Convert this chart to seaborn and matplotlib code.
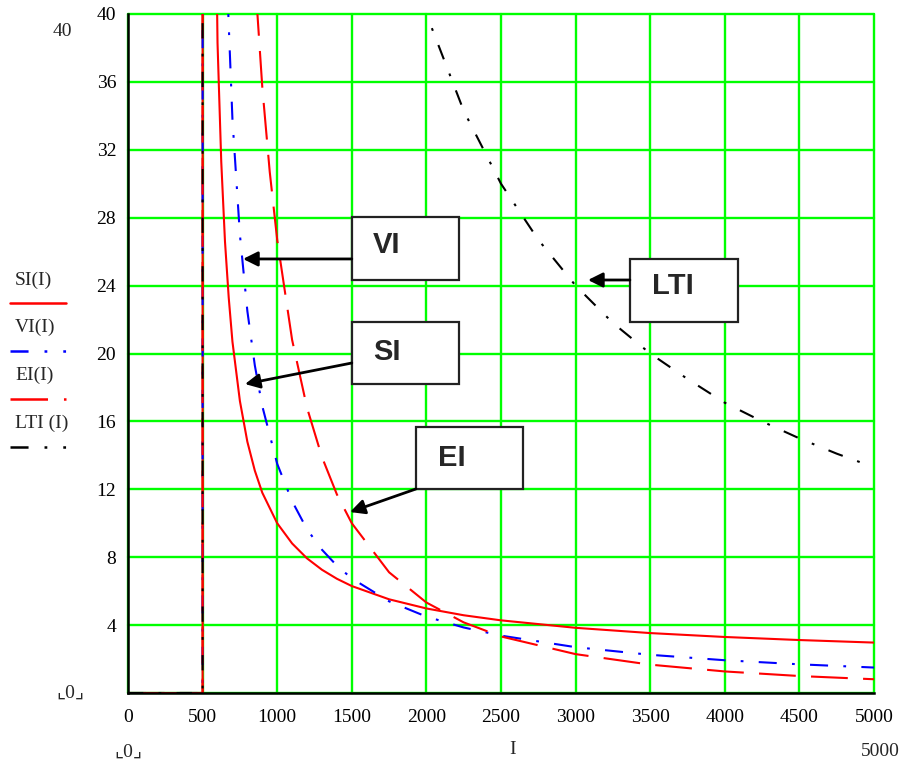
import matplotlib
matplotlib.use("Agg")
import matplotlib.pyplot as plt
import seaborn as sns
import numpy as np
from matplotlib.lines import Line2D
from matplotlib.patches import Rectangle

# relay operating time t (s) vs current I (A)
I_SI = [0, 500, 505, 520, 550, 600, 625, 650, 675, 700, 750, 800, 850, 900, 1000, 1100,
        1200, 1300, 1400, 1500, 1750, 2000, 2250, 2500, 3000, 3500, 4000, 4500, 5000]
t_SI = [0, 0, 700, 178, 73.4, 38.3, 31.3, 26.6, 23.3, 20.7, 17.2, 14.8, 13.1, 11.8, 10.0, 8.81,
        7.93, 7.26, 6.73, 6.30, 5.52, 4.98, 4.58, 4.28, 3.84, 3.53, 3.30, 3.12, 2.97]

I_VI = [0, 500, 505, 520, 550, 600, 650, 700, 750, 800, 850, 900, 1000, 1100, 1200, 1300,
        1400, 1500, 1750, 2000, 2250, 2500, 3000, 3500, 4000, 4500, 5000]
t_VI = [0, 0, 1350, 338, 135, 67.5, 45.0, 33.8, 27.0, 22.5, 19.3, 16.9, 13.5, 11.3, 9.64, 8.44,
        7.50, 6.75, 5.40, 4.50, 3.86, 3.38, 2.70, 2.25, 1.93, 1.69, 1.50]

I_EI = [0, 500, 505, 520, 550, 600, 700, 800, 850, 900, 950, 1000, 1100, 1200, 1300, 1400,
        1500, 1750, 2000, 2250, 2500, 3000, 3500, 4000, 4500, 5000]
t_EI = [0, 0, 3980, 980, 381, 182, 83.3, 51.3, 42.3, 35.7, 30.7, 26.7, 20.8, 16.8, 13.9, 11.7,
        10.0, 7.11, 5.33, 4.16, 3.33, 2.29, 1.67, 1.27, 1.00, 0.81]

I_LTI = [0, 500, 505, 520, 550, 600, 800, 1000, 1500, 2000, 2250, 2500, 2750, 3000, 3250,
         3500, 3750, 4000, 4250, 4500, 4750, 5000]
t_LTI = [0, 0, 12000, 3000, 1200, 600, 200, 120, 60, 40, 34.3, 30.0, 26.7, 24.0, 21.8,
         20.0, 18.5, 17.1, 16.0, 15.0, 14.1, 13.3]

x_ticks = list(range(0, 5001, 500))
y_ticks = list(range(0, 41, 4))

sns.set_style("white")
plt.rcParams["font.family"] = ["Liberation Serif", "DejaVu Sans"]
plt.rcParams["lines.scale_dashes"] = False

fig = plt.figure(figsize=(9.04, 7.64), dpi=100)
ax = fig.add_axes([128 / 904, 1 - 693 / 764, (874 - 128) / 904, (693 - 14) / 764])

# dash patterns (points) as they come out on the plotted curves
vi_plot = (0, (13, 11, 2, 11))
ei_plot = (0, (26.5, 11))
lti_plot = (0, (11, 11, 2, 11))
# dash patterns of the legend samples
leg_dd = (0, (13, 11.5, 2, 11.5, 2, 11.5))
leg_ld = (0, (27, 11.5, 2, 11.5))

curves = [
    (I_SI, t_SI, "#ff0000", None),
    (I_VI, t_VI, "#0000ff", vi_plot),
    (I_EI, t_EI, "#ff0000", ei_plot),
    (I_LTI, t_LTI, "black", lti_plot),
]
for xs, ys, col, ls in curves:
    sns.lineplot(x=xs, y=ys, color=col, lw=1.5, ax=ax, estimator=None, sort=False, zorder=3)
    if ls is not None:
        ax.lines[-1].set_linestyle(ls)

ax.set_xlim(0, 5000)
ax.set_ylim(0, 40)
ax.set_xticks(x_ticks)
ax.set_xticklabels([str(v) for v in x_ticks])
ax.set_yticks(y_ticks)
ax.set_yticklabels([""] + [str(v) for v in y_ticks[1:]])
ax.set_xlabel("")
ax.set_ylabel("")

ax.grid(True, color="#00ff00", lw=1.7)
for gl in ax.get_xgridlines() + ax.get_ygridlines():
    gl.set_clip_on(False)
ax.set_axisbelow(True)

for s in ["top", "right"]:
    ax.spines[s].set_visible(False)
for s in ["left", "bottom"]:
    ax.spines[s].set_color("black")
    ax.spines[s].set_linewidth(1.8)
    ax.spines[s].set_zorder(4)

ax.tick_params(axis="x", direction="inout", length=11, width=1.8, colors="black",
               labelsize=14, pad=6)
ax.tick_params(axis="y", direction="inout", length=13, width=1.8, colors="black",
               labelsize=14, pad=2)

# annotation boxes with arrows
boxes = [
    ("VI", 1500, 24.33, 717, 3.71, 1642, 26.39, (1500, 25.57), (771, 25.57)),
    ("SI", 1500, 18.20, 717, 3.66, 1642, 20.09, (1500, 19.44), (784, 18.20)),
    ("EI", 1930, 12.02, 717, 3.65, 2078, 13.84, (1930, 12.02), (1488, 10.66)),
    ("LTI", 3364, 21.86, 724, 3.71, 3512, 23.98, (3364, 24.33), (3083, 24.33)),
]
for lab, bx, by, bw, bh, tx, ty, tail, tip in boxes:
    ax.add_patch(Rectangle((bx, by), bw, bh, facecolor="white", edgecolor="#222222",
                           lw=1.6, zorder=5, clip_on=False))
    ax.text(tx, ty, lab, fontsize=21, fontweight="bold", family="Liberation Sans",
            ha="left", va="center", zorder=6)
    ax.annotate("", xy=tip, xytext=tail, zorder=6,
                arrowprops=dict(arrowstyle="-|>", color="black", lw=2,
                                mutation_scale=22, shrinkA=0, shrinkB=0))

# Mathcad style legend on the left
legend = [
    ("SI(I)", 280, 303, "#ff0000", "-"),
    ("VI(I)", 327, 351, "#0000ff", leg_dd),
    ("EI(I)", 375, 399, "#ff0000", leg_ld),
    ("LTI (I)", 423, 447, "black", leg_dd),
]
for txt, ty, ly, col, ls in legend:
    fig.text(15 / 904, 1 - ty / 764, txt, fontsize=14, ha="left", va="center")
    fig.add_artist(Line2D([10 / 904, 66 / 904], [1 - ly / 764, 1 - ly / 764],
                          transform=fig.transFigure, color=col, lw=1.8, linestyle=ls))

# axis limit placeholders and axis name
fig.text(62 / 904, 1 - 32 / 764, "40", fontsize=14, ha="center", va="center")
fig.text(70 / 904, 1 - 693 / 764, "⌞0⌟", fontsize=14, ha="center", va="center")
fig.text(128 / 904, 1 - 752 / 764, "⌞0⌟", fontsize=14, ha="center", va="center")
fig.text(513 / 904, 1 - 750 / 764, "I", fontsize=14, ha="center", va="center")
fig.text(880 / 904, 1 - 751 / 764, "5000", fontsize=14, ha="center", va="center")

fig.savefig("out.png", dpi=100)
